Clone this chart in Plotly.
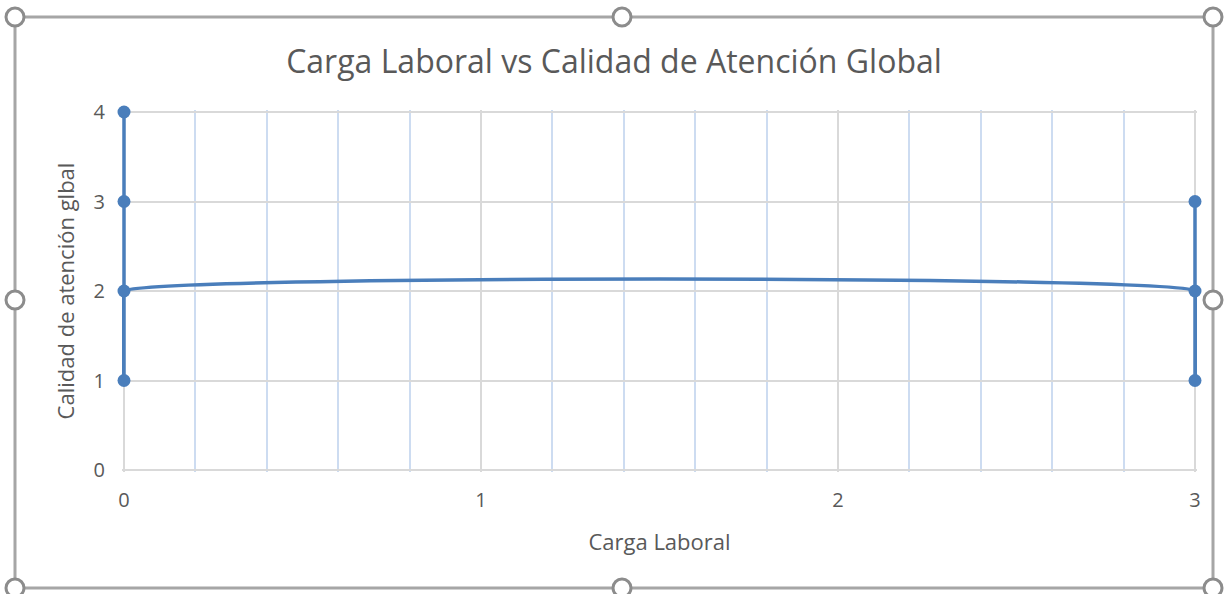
import plotly.graph_objects as go

carga = [0, 0, 0, 0, 3, 3, 3]
calidad = [4, 3, 1, 2, 2, 1, 3]
x_ticks = [0, 1, 2, 3]
y_ticks = [0, 1, 2, 3, 4]

title = "Carga Laboral vs Calidad de Atención Global"
x_title = "Carga Laboral"
y_title = "Calidad de atención glbal"

blue = "#4a7ebb"
gray_txt = "#595959"
font_fam = "Open Sans, Noto Sans, sans-serif"

fig = go.Figure()
fig.add_trace(go.Scatter(
    x=carga, y=calidad, mode="lines+markers",
    line=dict(color=blue, width=3.5, shape="spline", smoothing=0.2),
    marker=dict(color=blue, size=13),
    cliponaxis=False, showlegend=False,
))

W, H = 1228, 594
L, R, T, B = 122, 31, 110, 122
pw, ph = W - L - R, H - T - B

def px(xp):
    return (xp - L) / pw

def py(yp):
    return (H - B - yp) / ph

shapes = []
fx0, fx1, fy0, fy1 = 15, 1213, 17, 588
shapes.append(dict(type="rect", xref="paper", yref="paper",
                   x0=px(fx0), x1=px(fx1), y0=py(fy1), y1=py(fy0),
                   line=dict(color="#a6a6a6", width=3), layer="below"))
for hx, hy in [(fx0, fy0), (622, fy0), (fx1, fy0),
               (fx0, 300), (fx1, 300),
               (fx0, fy1), (622, fy1), (fx1, fy1)]:
    shapes.append(dict(type="circle", xref="paper", yref="paper",
                       xsizemode="pixel", ysizemode="pixel",
                       xanchor=px(hx), yanchor=py(hy),
                       x0=-9, x1=9, y0=-9, y1=9,
                       fillcolor="white", line=dict(color="#8c8c8c", width=3)))

pad_x = 2 / (1228 - 124 - 33) * 3
pad_y = 2 / (594 - 112 - 124) * 4

fig.update_layout(
    width=W, height=H,
    margin=dict(l=L, r=R, t=T, b=B),
    paper_bgcolor="white", plot_bgcolor="white",
    title=dict(text=title, x=0.5, xanchor="center", y=1 - 62 / H, yanchor="middle",
               font=dict(family=font_fam, size=32, color=gray_txt)),
    font=dict(family=font_fam, color=gray_txt, size=20),
    shapes=shapes,
    xaxis=dict(range=[-pad_x, 3 + pad_x], tickvals=x_ticks, showgrid=True, gridcolor="#d9d9d9", gridwidth=2,
               minor=dict(dtick=0.2, tick0=0, showgrid=True, gridcolor="#cddcf1", gridwidth=2),
               zeroline=False, showline=False,
               ticks="", ticklabelstandoff=14, tickfont=dict(size=20, color=gray_txt),
               title=dict(text=x_title, font=dict(size=22, color=gray_txt), standoff=22)),
    yaxis=dict(range=[-pad_y, 4 + pad_y], tickvals=y_ticks, showgrid=True, gridcolor="#d9d9d9", gridwidth=2,
               zeroline=False, showline=False,
               ticks="", ticklabelstandoff=16, tickfont=dict(size=20, color=gray_txt),
               title=dict(text=y_title, font=dict(size=22, color=gray_txt), standoff=12)),
)
fig.add_vline(x=0, line=dict(color="#d9d9d9", width=2), layer="below")
fig.add_vline(x=3, line=dict(color="#d9d9d9", width=2), layer="below")

fig.write_html("out.html", post_script="document.body.style.margin='0';",
               config={"displayModeBar": False})
